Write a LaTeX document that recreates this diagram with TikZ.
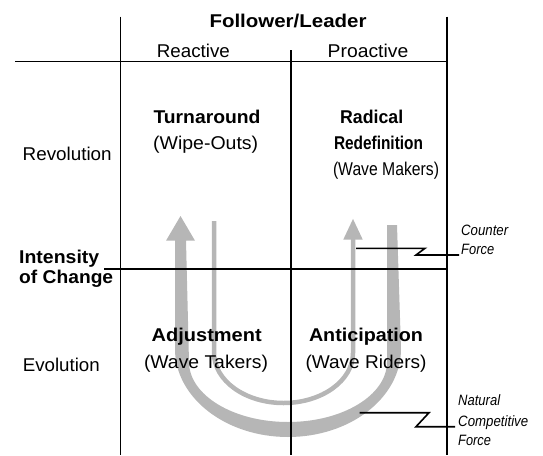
\documentclass[tikz,border=0pt]{standalone}
\usepackage{fontspec}
\usepackage{graphicx}
\setmainfont{Liberation Sans}
\usetikzlibrary{arrows.meta}

\definecolor{flow}{RGB}{182,182,182}

% set a word or phrase to a given width, keeping its height
\newcommand{\fitw}[2]{\resizebox{#1pt}{\height}{#2}}

\tikzset{
  rule/.style={line width=1.8pt, line cap=butt},
  lead/.style={line width=1.6pt, line join=miter},
  lbl/.style={inner sep=0pt, anchor=base, font=\fontsize{18.5}{22}\selectfont},
  lblb/.style={lbl, font=\fontsize{18.5}{22}\selectfont\bfseries},
  lbll/.style={lblb, anchor=base west},
  note/.style={inner sep=0pt, anchor=base west, font=\fontsize{15}{18}\selectfont\itshape},
  thinflow/.style={draw=flow, line width=4.5pt,
    -{Triangle[length=21pt,width=18pt]}},
}

\begin{document}
\begin{tikzpicture}[x=1pt,y=-1pt]
\useasboundingbox (0,0) rectangle (543,455);

% wide band: natural competitive force, arrow on the left
\fill[flow] (166,240.7) -- (180.5,216) -- (195,240.7) -- (186,240.7)
  -- (189,362) .. controls (189,395.1) and (233.3,422) .. (288,422)
  .. controls (342.7,422) and (387,395.1) .. (387,362)
  -- (387,225) -- (397,225) -- (401,349)
  .. controls (401,397.6) and (350.4,437) .. (288,437)
  .. controls (225.6,437) and (175,397.6) .. (175,349)
  -- (175,240.7) -- cycle;

% narrow band: counter force, arrow on the right
\draw[thinflow] (214,221) -- (214,353)
  .. controls (214,380.6) and (245.1,403) .. (283.5,403)
  .. controls (321.9,403) and (353,380.6) .. (353,353) -- (353,218.5);

% grid
\draw[rule] (15,61.5) -- (447,61.5);
\draw[rule] (104,268.7) -- (447,268.7);
\draw[rule] (120.5,16.7) -- (120.5,455);
\draw[rule] (291,50) -- (291,455);
\draw[rule] (446.7,16.7) -- (446.7,455);

% column headings
\node[lblb] (fl) at (288,27.3) {\fitw{157}{Follower/Leader}};
\node[lbl] (re) at (193.4,57) {\fitw{73}{Reactive}};
\node[lbl] (pr) at (368,57) {\fitw{80.6}{Proactive}};

% row headings
\node[lbl] (rev) at (67.2,160) {\fitw{89}{Revolution}};
\node[lbll] (int1) at (19,263.3) {\fitw{80}{Intensity}};
\node[lbll] (int2) at (19,283.3) {\fitw{94}{of Change}};
\node[lbl] (evo) at (61.3,371.7) {\fitw{77}{Evolution}};

% quadrants
\node[lblb] (ta1) at (207,123.3) {\fitw{107}{Turnaround}};
\node[lbl] (ta2) at (205.7,149.3) {\fitw{105}{(Wipe-Outs)}};
\node[lblb] (rr1) at (371.7,123.3) {\fitw{63}{Radical}};
\node[lblb] (rr2) at (378.5,149.3) {\fitw{89}{Redefinition}};
\node[lbl] (rr3) at (386,175) {\fitw{106}{(Wave Makers)}};
\node[lblb] (ad1) at (206.7,341.7) {\fitw{110}{Adjustment}};
\node[lbl] (ad2) at (206,368) {\fitw{124}{(Wave Takers)}};
\node[lblb] (an1) at (366,341.7) {\fitw{114}{Anticipation}};
\node[lbl] (an2) at (366,368) {\fitw{121}{(Wave Riders)}};

% force notes
\node[note] (cf1) at (461,235) {\fitw{47}{Counter}};
\node[note] (cf2) at (461,254) {\fitw{33}{Force}};
\node[note] (nf1) at (458,405) {\fitw{42}{Natural}};
\node[note] (nf2) at (458,426.7) {\fitw{70}{Competitive}};
\node[note] (nf3) at (458,445) {\fitw{32.7}{Force}};

% leaders from the bands to their notes
\coordinate (cfa) at (356,248.3);
\coordinate (cfb) at (459,255);
\coordinate (nfa) at (359.5,412.7);
\coordinate (nfb) at (455,426.7);
\draw[lead] (cfa) -- (425,248.3) -- (416,255) -- (cfb);
\draw[lead] (nfa) -- (429,412.7) -- (416,426.7) -- (nfb);
\end{tikzpicture}
\end{document}
